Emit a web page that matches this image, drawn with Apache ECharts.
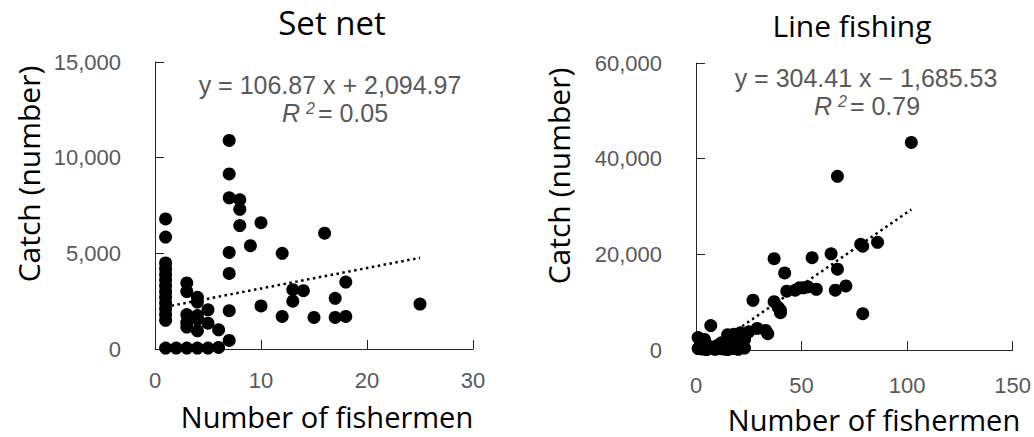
<!DOCTYPE html>
<html>
<head>
<meta charset="utf-8">
<script src="https://cdn.jsdelivr.net/npm/echarts@6/dist/echarts.min.js"></script>
<style>
html,body{margin:0;padding:0;background:#fff;}
#c{width:1034px;height:437px;}
</style>
</head>
<body>
<div id="c"></div>
<script>
// ---- Data ----
const titleLeft = 'Set net';
const titleRight = 'Line fishing';
const yName = 'Catch (number)';
const xName = 'Number of fishermen';

// Set net: [fishermen, catch]
const setNetPoints = [
  [1,6800],[1,5850],[1,4500],[1,4200],[1,3900],[1,3600],[1,3300],[1,3000],[1,2700],[1,2400],[1,2100],[1,1800],[1,1500],[1,50],
  [2,50],[3,50],[4,50],[5,50],[6,80],
  [3,3450],[3,3000],[3,1800],[3,1400],[3,1150],
  [4,2700],[4,2450],[4,1750],[4,1550],[4,950],
  [5,2050],[5,1350],[6,1000],
  [7,10900],[7,9150],[7,7900],[7,5050],[7,3950],[7,2000],[7,450],
  [8,7800],[8,7300],[8,6450],
  [9,5400],[10,6600],[10,2250],
  [12,5000],[12,1700],[13,3100],[13,2500],[14,3050],[15,1650],[16,6050],
  [17,2650],[17,1650],[18,3500],[18,1700],[25,2350]
];
// Line fishing: [fishermen, catch]
const lineFishingPoints = [
  [102,43400],[67,36300],[78,22100],[79,21700],[86,22500],[55,19300],[64,20100],[37,19100],
  [67,16900],[42,16100],[51,13000],[57,12700],[66,12500],[71,13400],[43,12300],[47,12500],
  [49,13000],[53,13200],[79,7600],[27,10400],[37,10100],[39,8900],[40,8300],[40,7800],
  [7,5100],[29,4500],[33,4100],[34,3400],[25,3800],[21,3600],[18,3300],[15,3200],[20,2400],
  [23,2200],[1,2600],[4,2200],[12,1500],[16,1800],[22,1100],
  [1,300],[3,200],[5,100],[7,400],[9,150],[11,300],[13,200],[15,100],[18,300],[20,150],[23,400],
  [2,1000],[6,800],[10,900],[17,700]
];
// Trend line end points (from the fitted equations shown)
const setNetTrend = [[1,2202],[25,4767]];
const lineFishingTrend = [[5.5,0],[102,29365]];

const eqLeft = 'y = 106.87 x + 2,094.97';
const r2Left = '0.05';
const eqRight = 'y = 304.41 x \u2212 1,685.53';
const r2Right = '0.79';

const leftX = {min:0, max:30, interval:10};
const leftY = {min:0, max:15000, interval:5000};
const rightX = {min:0, max:150, interval:50};
const rightY = {min:0, max:60000, interval:20000};

// ---- Chart ----
const chart = echarts.init(document.getElementById('c'), null, {renderer:'svg'});
const tickFont = {color:'#595959', fontFamily:'Liberation Sans, Arial, sans-serif', fontSize:22};
const axisColor = '#262626';
const fmt = v => Number(v).toLocaleString('en-US');

function xAxis(idx, s, margin){
  return {type:'value', gridIndex:idx, min:s.min, max:s.max, interval:s.interval,
    axisLine:{show:true, onZero:false, lineStyle:{color:axisColor, width:1}},
    axisTick:{show:true, inside:true, length:9, lineStyle:{color:axisColor}},
    splitLine:{show:false},
    axisLabel:Object.assign({margin:margin, formatter:fmt}, tickFont)};
}
function yAxis(idx, s){
  return {type:'value', gridIndex:idx, min:s.min, max:s.max, interval:s.interval,
    axisLine:{show:true, onZero:false, lineStyle:{color:axisColor, width:1}},
    axisTick:{show:true, inside:true, length:9, lineStyle:{color:axisColor}},
    splitLine:{show:false},
    axisLabel:Object.assign({margin:34, formatter:fmt}, tickFont)};
}
const eqStyle = {fill:'#595959', font:'25px "Liberation Sans", Arial, sans-serif', textAlign:'center', textVerticalAlign:'middle'};
function r2Rich(val){
  return {
    text:'{i|R}{s|2}{n|= ' + val + '}',
    textAlign:'center', textVerticalAlign:'middle',
    rich:{
      i:{fill:'#595959', fontSize:25, fontStyle:'italic', fontFamily:'Liberation Sans', padding:[0,6,0,0]},
      s:{fill:'#595959', fontSize:16, fontStyle:'italic', fontFamily:'Liberation Sans', verticalAlign:'top', padding:[0,3,10,0]},
      n:{fill:'#595959', fontSize:25, fontFamily:'Liberation Sans'}
    }
  };
}
const nameFont = '"Open Sans", "Noto Sans", sans-serif';

chart.setOption({
  animation:false,
  grid:[
    {left:155, top:62, width:318, height:287},
    {left:696, top:63, width:318, height:287}
  ],
  xAxis:[xAxis(0, leftX, 20), xAxis(1, rightX, 24)],
  yAxis:[yAxis(0, leftY), yAxis(1, rightY)],
  series:[
    {type:'scatter', xAxisIndex:0, yAxisIndex:0, data:setNetPoints, symbol:'circle', symbolSize:13, itemStyle:{color:'#000', opacity:1}},
    {type:'line', xAxisIndex:0, yAxisIndex:0, data:setNetTrend, symbol:'none', lineStyle:{color:'#000', width:2.5, type:[2.5,3.5]}, z:3},
    {type:'scatter', xAxisIndex:1, yAxisIndex:1, data:lineFishingPoints, symbol:'circle', symbolSize:13, itemStyle:{color:'#000', opacity:1}},
    {type:'line', xAxisIndex:1, yAxisIndex:1, data:lineFishingTrend, symbol:'none', lineStyle:{color:'#000', width:2.5, type:[2.5,3.5]}, z:3}
  ],
  graphic:[
    {type:'text', x:332, y:22, style:{text:titleLeft, fill:'#000', font:'33px ' + nameFont, textAlign:'center', textVerticalAlign:'middle'}},
    {type:'text', x:852, y:25, style:{text:titleRight, fill:'#000', font:'30px ' + nameFont, textAlign:'center', textVerticalAlign:'middle'}},
    {type:'text', x:28, y:174, rotation:Math.PI/2, style:{text:yName, fill:'#000', font:'30px ' + nameFont, textAlign:'center', textVerticalAlign:'middle'}},
    {type:'text', x:558, y:176, rotation:Math.PI/2, style:{text:yName, fill:'#000', font:'30px ' + nameFont, textAlign:'center', textVerticalAlign:'middle'}},
    {type:'text', x:327, y:416, style:{text:xName, fill:'#000', font:'29px ' + nameFont, textAlign:'center', textVerticalAlign:'middle'}},
    {type:'text', x:874, y:419, style:{text:xName, fill:'#000', font:'29px ' + nameFont, textAlign:'center', textVerticalAlign:'middle'}},
    {type:'text', x:330, y:85, style:Object.assign({text:eqLeft}, eqStyle)},
    {type:'text', x:335, y:113, style:r2Rich(r2Left)},
    {type:'text', x:866, y:78, style:Object.assign({text:eqRight}, eqStyle)},
    {type:'text', x:867, y:106, style:r2Rich(r2Right)}
  ]
});
</script>
</body>
</html>
